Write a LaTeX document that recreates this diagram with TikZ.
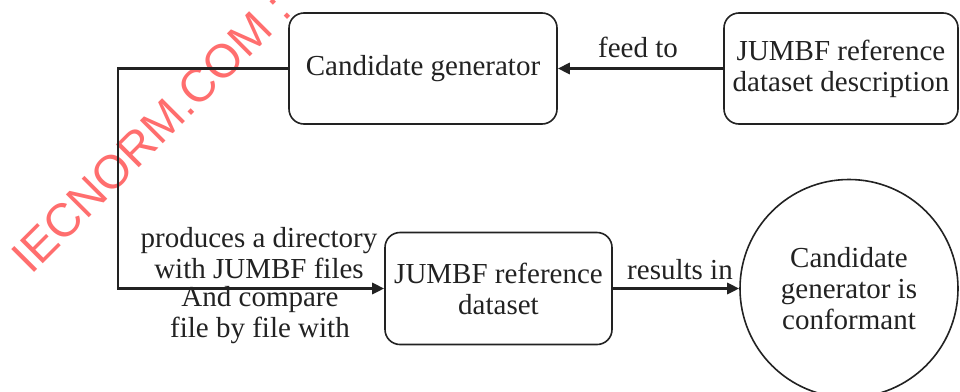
\documentclass[tikz,border=0pt]{standalone}
\usepackage{fontspec}
\setmainfont{Liberation Serif}
\newfontfamily\wmfont{Liberation Sans}
\usetikzlibrary{arrows.meta}
\definecolor{ink}{HTML}{222222}
\definecolor{wmred}{HTML}{FF6E6E}
\tikzset{
  box/.style={draw=ink, line width=1.6pt, rounded corners=15pt, align=center,
    inner sep=0pt, text=ink},
  conn/.style={draw=ink, line width=2.8pt, -{Triangle[length=12pt,width=11pt]}},
  lbl/.style={text=ink, align=center, inner sep=0pt}
}
\begin{document}
\begin{tikzpicture}[x=1pt,y=-1pt,font=\fontsize{29}{31}\selectfont]
\useasboundingbox (0,0) rectangle (960,391);
\clip (0,0) rectangle (960,391);
\fill[white] (0,0) rectangle (960,391);
% watermark
\node[text=wmred, font=\wmfont\fontsize{47}{47}\selectfont, anchor=base west,
  rotate=45, inner sep=0pt] (wm) at (31,276) {IECNORM.COM :};
% nodes
\node[box, minimum width=268pt, minimum height=111pt] (cg) at (423,68.5) {Candidate generator};
\node[box, minimum width=234pt, minimum height=111pt] (desc) at (841,68.5) {JUMBF reference\\dataset description};
\node[box, minimum width=227pt, minimum height=112pt] (ds) at (498.5,288.5) {JUMBF reference\\dataset};
\node[draw=ink, line width=1.6pt, circle, minimum size=218pt, inner sep=0pt, align=center, text=ink] (circ) at (849,288.5) {Candidate\\generator is\\conformant};
\coordinate (corner) at (118,68.5);
% connectors
\draw[conn] (desc.west) -- (cg.east);
\draw[conn] (cg.west) -- (corner) |- (ds.west);
\draw[conn] (ds.east) -- (circ.west);
% labels
\node[lbl] (feed) at (638,47) {feed to};
\node[lbl] (res) at (680,270) {results in};
\node[lbl] (prod) at (259,253) {produces a directory\\with JUMBF files};
\node[lbl] (comp) at (260,315) {And compare\\file by file with};
\end{tikzpicture}
\end{document}
